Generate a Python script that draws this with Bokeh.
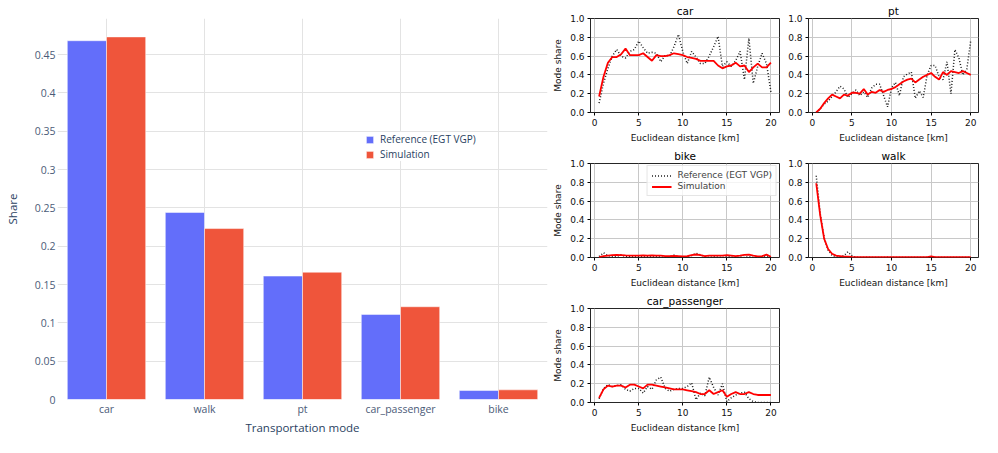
from bokeh.plotting import figure
from bokeh.models import ColumnDataSource, FactorRange, Range1d, FixedTicker, NumeralTickFormatter
from bokeh.layouts import row, column
from bokeh.transform import dodge
from bokeh.embed import file_html
from bokeh.resources import INLINE

# ---------------- data: overall shares ----------------
modes = ["car", "walk", "pt", "car_passenger", "bike"]
share_reference = [0.468, 0.244, 0.161, 0.111, 0.0117]
share_simulation = [0.473, 0.223, 0.166, 0.121, 0.0126]
share_ticks = [0, 0.05, 0.1, 0.15, 0.2, 0.25, 0.3, 0.35, 0.4, 0.45]

# ---------------- data: mode share by distance ----------------
distance_km = [0.5, 1.0, 1.5, 2.0, 2.5, 3.0, 3.5, 4.0, 4.5, 5.0,
               5.5, 6.0, 6.5, 7.0, 7.5, 8.0, 8.5, 9.0, 9.5, 10.0,
               10.5, 11.0, 11.5, 12.0, 12.5, 13.0, 13.5, 14.0, 14.5, 15.0,
               15.5, 16.0, 16.5, 17.0, 17.5, 18.0, 18.5, 19.0, 19.5, 20.0]
dist_ticks = [0, 5, 10, 15, 20]
modeshare_ticks = [0.0, 0.2, 0.4, 0.6, 0.8, 1.0]

car_ref = [0.10, 0.31, 0.47, 0.60, 0.67, 0.60, 0.58, 0.65, 0.67, 0.76,
           0.69, 0.63, 0.64, 0.63, 0.54, 0.61, 0.60, 0.70, 0.83, 0.65,
           0.52, 0.65, 0.59, 0.52, 0.52, 0.60, 0.70, 0.81, 0.49, 0.54,
           0.49, 0.55, 0.65, 0.35, 0.79, 0.31, 0.49, 0.63, 0.52, 0.22]
car_sim = [0.17, 0.38, 0.53, 0.59, 0.59, 0.62, 0.68, 0.61, 0.61, 0.61,
           0.63, 0.59, 0.55, 0.61, 0.60, 0.60, 0.61, 0.63, 0.62, 0.61,
           0.59, 0.58, 0.57, 0.55, 0.55, 0.55, 0.55, 0.50, 0.47, 0.49,
           0.50, 0.53, 0.49, 0.50, 0.43, 0.48, 0.52, 0.48, 0.48, 0.53]

pt_ref = [0.00, 0.04, 0.09, 0.12, 0.17, 0.22, 0.28, 0.25, 0.16, 0.20,
          0.24, 0.18, 0.22, 0.16, 0.26, 0.30, 0.30, 0.18, 0.06, 0.26,
          0.32, 0.18, 0.38, 0.41, 0.43, 0.15, 0.23, 0.16, 0.40, 0.50,
          0.50, 0.38, 0.35, 0.54, 0.20, 0.67, 0.58, 0.40, 0.46, 0.77]
pt_sim = [0.00, 0.04, 0.10, 0.15, 0.19, 0.17, 0.15, 0.19, 0.18, 0.21,
          0.21, 0.20, 0.25, 0.19, 0.22, 0.21, 0.24, 0.22, 0.24, 0.25,
          0.27, 0.30, 0.33, 0.35, 0.36, 0.32, 0.35, 0.38, 0.40, 0.42,
          0.38, 0.35, 0.43, 0.40, 0.44, 0.43, 0.42, 0.44, 0.42, 0.40]

bike_ref = [0.010, 0.050, 0.020, 0.010, 0.010, 0.030, 0.010, 0.010, 0.005, 0.010,
            0.005, 0.010, 0.005, 0.010, 0.005, 0.000, 0.010, 0.025, 0.010, 0.005,
            0.010, 0.020, 0.045, 0.030, 0.010, 0.000, 0.010, 0.005, 0.000, 0.010,
            0.005, 0.000, 0.005, 0.000, 0.010, 0.000, 0.005, 0.000, 0.010, 0.000]
bike_sim = [0.005, 0.015, 0.020, 0.025, 0.028, 0.025, 0.022, 0.020, 0.020, 0.020,
            0.022, 0.020, 0.022, 0.020, 0.020, 0.015, 0.015, 0.018, 0.015, 0.012,
            0.015, 0.025, 0.032, 0.025, 0.015, 0.020, 0.020, 0.020, 0.020, 0.025,
            0.020, 0.015, 0.020, 0.028, 0.030, 0.020, 0.012, 0.015, 0.030, 0.008]

walk_ref = [0.87, 0.47, 0.21, 0.08, 0.02, 0.01, 0.005, 0.02, 0.06, 0.02,
            0.002, 0.0, 0.0, 0.002, 0.0, 0.0, 0.0, 0.0, 0.002, 0.0,
            0.0, 0.0, 0.0, 0.0, 0.0, 0.0, 0.0, 0.0, 0.0, 0.002,
            0.0, 0.0, 0.0, 0.0, 0.0, 0.0, 0.0, 0.0, 0.0, 0.0]
walk_sim = [0.79, 0.45, 0.20, 0.09, 0.04, 0.02, 0.015, 0.010, 0.010, 0.006,
            0.005, 0.004, 0.004, 0.004, 0.003, 0.004, 0.003, 0.003, 0.004, 0.003,
            0.004, 0.003, 0.003, 0.003, 0.004, 0.003, 0.003, 0.004, 0.005, 0.012,
            0.004, 0.003, 0.003, 0.003, 0.003, 0.004, 0.003, 0.003, 0.005, 0.003]

car_passenger_ref = [0.04, 0.15, 0.19, 0.17, 0.18, 0.19, 0.14, 0.12, 0.15, 0.15,
                     0.10, 0.17, 0.14, 0.24, 0.27, 0.15, 0.12, 0.14, 0.15, 0.15,
                     0.17, 0.21, 0.03, 0.10, 0.07, 0.27, 0.16, 0.08, 0.20, 0.01,
                     0.05, 0.08, 0.10, 0.11, 0.04, 0.01, 0.00, 0.00, 0.00, 0.00]
car_passenger_sim = [0.05, 0.14, 0.18, 0.17, 0.18, 0.18, 0.16, 0.19, 0.19, 0.17,
                     0.15, 0.19, 0.19, 0.18, 0.17, 0.16, 0.15, 0.14, 0.14, 0.14,
                     0.13, 0.12, 0.11, 0.09, 0.09, 0.13, 0.09, 0.11, 0.13, 0.06,
                     0.09, 0.11, 0.09, 0.09, 0.11, 0.09, 0.08, 0.08, 0.08, 0.08]

# ---------------- left: plotly-like grouped bar chart ----------------
PFONT = "Open Sans"
GRID = "#e3e3e3"

src = ColumnDataSource(dict(mode=modes, ref=share_reference, sim=share_simulation))
bar = figure(x_range=FactorRange(factors=modes, range_padding=0),
             y_range=Range1d(0, 0.497),
             width=548, height=437, output_backend="svg", toolbar_location=None,
             min_border_left=57, min_border_right=1, min_border_top=18, min_border_bottom=32)
bar.outline_line_color = None
bar.vbar(x=dodge("mode", -0.2, range=bar.x_range), top="ref", width=0.4, source=src,
         fill_color="#636efa", line_color="white", line_width=0.5,
         legend_label="Reference (EGT VGP)")
bar.vbar(x=dodge("mode", 0.2, range=bar.x_range), top="sim", width=0.4, source=src,
         fill_color="#ef553b", line_color="white", line_width=0.5,
         legend_label="Simulation")
bar.xgrid.grid_line_color = GRID
bar.ygrid.grid_line_color = GRID
for ax in (bar.xaxis, bar.yaxis):
    ax.axis_line_color = None
    ax.major_tick_line_color = None
    ax.major_tick_out = 0
    ax.major_tick_in = 0
    ax.minor_tick_line_color = None
    ax.minor_tick_out = 0
    ax.major_label_text_font = PFONT
    ax.major_label_text_font_size = "10.5px"
    ax.major_label_text_color = "#4b5b78"
    ax.axis_label_text_font = PFONT
    ax.axis_label_text_font_size = "11.5px"
    ax.axis_label_text_font_style = "normal"
    ax.axis_label_text_color = "#2a3f5f"
bar.yaxis.ticker = FixedTicker(ticks=share_ticks)
bar.yaxis.formatter = NumeralTickFormatter(format="0.[00]")
bar.yaxis.major_label_standoff = 2
bar.yaxis.axis_label = "Share"
bar.yaxis.axis_label_standoff = 12
bar.xaxis.axis_label = "Transportation mode"
bar.xaxis.major_label_standoff = 2
bar.xaxis.axis_label_standoff = 1
bar.legend.location = (308, 238)
bar.legend.border_line_color = None
bar.legend.background_fill_color = "white"
bar.legend.background_fill_alpha = 1.0
bar.legend.label_text_font = PFONT
bar.legend.label_text_font_size = "10px"
bar.legend.label_text_color = "#2a3f5f"
bar.legend.glyph_width = 9
bar.legend.glyph_height = 9
bar.legend.label_height = 10
bar.legend.label_standoff = 6
bar.legend.spacing = 1
bar.legend.padding = 5
bar.legend.margin = 0

# ---------------- right: matplotlib-like small multiples ----------------
MFONT = "DejaVu Sans"


def panel(title, ref, sim, width, bl, br, ylabel, legend=False):
    p = figure(width=width, height=145, x_range=Range1d(-0.475, 20.975), y_range=Range1d(0, 1),
               output_backend="svg", toolbar_location=None, title=title,
               min_border_left=bl, min_border_right=br, min_border_top=17, min_border_bottom=33)
    p.title.text_font = MFONT
    p.title.text_font_size = "10.5px"
    p.title.text_font_style = "normal"
    p.title.text_color = "black"
    p.title.align = "center"
    p.title.standoff = 4
    p.outline_line_color = "black"
    p.outline_line_width = 1
    p.outline_line_alpha = 0.85
    p.grid.grid_line_color = "#c8c8c8"
    p.grid.grid_line_width = 1
    for ax in (p.xaxis, p.yaxis):
        ax.axis_line_color = None
        ax.major_tick_line_color = "black"
        ax.major_tick_out = 3
        ax.major_tick_in = 0
        ax.minor_tick_line_color = None
        ax.major_label_text_font = MFONT
        ax.major_label_text_font_size = "9px"
        ax.major_label_text_color = "#111111"
        ax.major_label_standoff = 3
        ax.axis_label_text_font = MFONT
        ax.axis_label_text_font_size = "9px"
        ax.axis_label_text_font_style = "normal"
        ax.axis_label_text_color = "#111111"
        ax.axis_label_standoff = 4
    p.xaxis.ticker = FixedTicker(ticks=dist_ticks)
    p.yaxis.ticker = FixedTicker(ticks=modeshare_ticks)
    p.yaxis.formatter = NumeralTickFormatter(format="0.0")
    p.xaxis.axis_label = "Euclidean distance [km]"
    if ylabel:
        p.yaxis.axis_label = "Mode share"
    kw_r = dict(legend_label="Reference (EGT VGP)") if legend else {}
    kw_s = dict(legend_label="Simulation") if legend else {}
    p.line(distance_km, ref, line_color="#1a1a1a", line_dash="1 2", line_width=1.5, **kw_r)
    p.line(distance_km, sim, line_color="red", line_width=1.8, **kw_s)
    if legend:
        p.legend.location = "top_right"
        p.legend.margin = 2
        p.legend.padding = 4
        p.legend.spacing = 1
        p.legend.glyph_width = 20
        p.legend.glyph_height = 9
        p.legend.label_height = 9
        p.legend.label_standoff = 6
        p.legend.label_text_font = MFONT
        p.legend.label_text_font_size = "9px"
        p.legend.border_line_color = "#cccccc"
        p.legend.background_fill_color = "white"
        p.legend.background_fill_alpha = 0.8
    return p


p_car = panel("car", car_ref, car_sim, 234, 42, 3, True)
p_pt = panel("pt", pt_ref, pt_sim, 200, 26, 4, False)
p_bike = panel("bike", bike_ref, bike_sim, 234, 42, 3, True, legend=True)
p_walk = panel("walk", walk_ref, walk_sim, 200, 26, 4, False)
p_cp = panel("car_passenger", car_passenger_ref, car_passenger_sim, 234, 42, 3, True)

layout = row(bar, column(row(p_car, p_pt), row(p_bike, p_walk), row(p_cp)))

open("out.html", "w").write(file_html(layout, INLINE))
